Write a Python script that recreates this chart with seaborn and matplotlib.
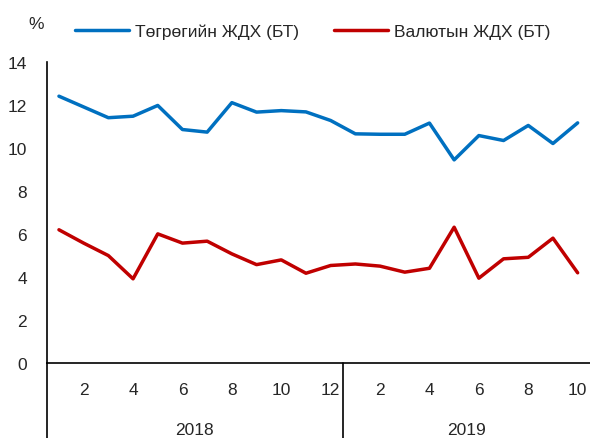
import matplotlib
matplotlib.use("Agg")
import matplotlib.pyplot as plt
import matplotlib.transforms as mtransforms
import seaborn as sns
import pandas as pd

# Сарын дугаар, 2018.01 - 2019.10
months = list(range(1, 13)) + list(range(1, 11))
years = [2018] * 12 + [2019] * 10
togrog = [12.4, 11.9, 11.4, 11.47, 11.97, 10.85, 10.73, 12.1, 11.66, 11.73, 11.67, 11.27,
          10.65, 10.63, 10.63, 11.15, 9.44, 10.57, 10.34, 11.04, 10.2, 11.16]
valyut = [6.19, 5.57, 4.99, 3.91, 6.0, 5.57, 5.66, 5.07, 4.57, 4.79, 4.17, 4.53,
          4.6, 4.5, 4.22, 4.4, 6.31, 3.94, 4.84, 4.91, 5.8, 4.19]
series_names = ["Төгрөгийн ЖДХ (БТ)", "Валютын ЖДХ (БТ)"]
colors = ["#0070C0", "#C00000"]
year_labels = ["2018", "2019"]

idx = list(range(1, len(months) + 1))
df = pd.DataFrame({"t": idx * 2,
                   "value": togrog + valyut,
                   "series": [series_names[0]] * len(idx) + [series_names[1]] * len(idx)})

sns.set_style("white")
plt.rcParams["font.family"] = ["Liberation Sans", "DejaVu Sans"]

fig = plt.figure(figsize=(5.9, 4.39), dpi=100)
ax = fig.add_axes([0.079, 0.171, 0.921, 0.686])

sns.lineplot(data=df, x="t", y="value", hue="series", palette=colors,
             linewidth=2.5, ax=ax, legend=False)

ax.set_xlim(0.5, len(idx) + 0.5)
ax.set_ylim(0, 14)
ax.set_yticks(range(0, 15, 2))
ax.tick_params(axis="y", length=0, labelsize=12.5, pad=14)
ax.set_xlabel("")
ax.set_ylabel("")

# x тэнхлэг: сар бүрийн хоёр дахь дугаар
tick_pos = [i for i, m in zip(idx, months) if m % 2 == 0]
tick_lab = [str(m) for m in months if m % 2 == 0]
ax.set_xticks(tick_pos)
ax.set_xticklabels(tick_lab, fontsize=12.5)
ax.tick_params(axis="x", length=0, pad=14)

for s in ["top", "right"]:
    ax.spines[s].set_visible(False)
for s in ["left", "bottom"]:
    ax.spines[s].set_linewidth(1.2)
    ax.spines[s].set_color("black")

# жилийн хуваалт
trans = mtransforms.blended_transform_factory(ax.transData, ax.transAxes)
n2018 = years.count(2018)
for xv in [0.5, n2018 + 0.5]:
    ax.plot([xv, xv], [0, -0.27], color="black", lw=1.2, transform=trans, clip_on=False)
ax.text((1 + n2018) / 2, -0.22, year_labels[0], transform=trans, ha="center", va="center", fontsize=12.5)
ax.text((n2018 + 1 + len(idx)) / 2, -0.22, year_labels[1], transform=trans, ha="center", va="center", fontsize=12.5)

# тайлбар
handles = [plt.Line2D([], [], color=c, lw=2.5) for c in colors]
fig.legend(handles, series_names, loc="center", bbox_to_anchor=(0.530, 0.927), ncol=2,
           frameon=False, fontsize=12.5, handlelength=3.1, handletextpad=0.35, columnspacing=2.0)
fig.text(0.062, 0.945, "%", fontsize=12.5, ha="center", va="center")

fig.savefig("out.png", dpi=100)
